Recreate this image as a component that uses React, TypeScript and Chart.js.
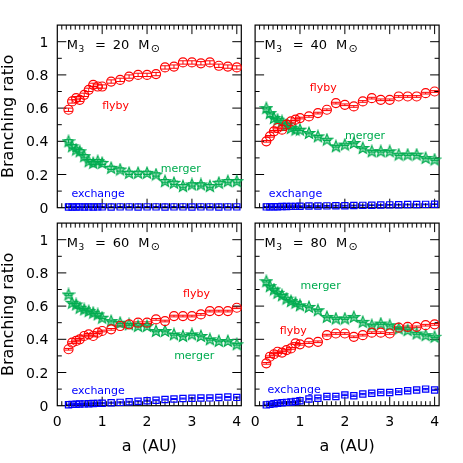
import React, { useEffect, useRef } from "react";
import { Chart, registerables } from "chart.js";

Chart.register(...registerables);

// ---------------- data ----------------
const aValues = [0.25, 0.33, 0.42, 0.5, 0.6, 0.7, 0.8, 0.9, 1.0, 1.2, 1.4, 1.6, 1.8, 2.0, 2.2, 2.4, 2.6, 2.8, 3.0, 3.2, 3.4, 3.6, 3.8, 4.0];

const masses = [20, 40, 60, 80];

const flyby20 = [0.59, 0.64, 0.66, 0.65, 0.68, 0.71, 0.74, 0.73, 0.73, 0.76, 0.77, 0.79, 0.8, 0.8, 0.805, 0.845, 0.85, 0.875, 0.875, 0.87, 0.875, 0.855, 0.85, 0.845];
const merger20 = [0.4, 0.37, 0.35, 0.34, 0.31, 0.28, 0.27, 0.28, 0.27, 0.24, 0.23, 0.21, 0.21, 0.21, 0.2, 0.16, 0.15, 0.13, 0.14, 0.14, 0.13, 0.15, 0.16, 0.16];
const exchange20 = [0.004, 0.004, 0.004, 0.005, 0.004, 0.005, 0.004, 0.005, 0.005, 0.004, 0.005, 0.005, 0.004, 0.005, 0.005, 0.004, 0.005, 0.005, 0.004, 0.005, 0.005, 0.004, 0.005, 0.005];

const flyby40 = [0.4, 0.43, 0.46, 0.48, 0.47, 0.5, 0.52, 0.53, 0.54, 0.55, 0.57, 0.59, 0.63, 0.62, 0.61, 0.64, 0.66, 0.65, 0.65, 0.67, 0.67, 0.67, 0.69, 0.7];
const merger40 = [0.6, 0.57, 0.54, 0.53, 0.52, 0.5, 0.48, 0.47, 0.47, 0.45, 0.43, 0.41, 0.37, 0.38, 0.39, 0.36, 0.34, 0.34, 0.34, 0.32, 0.32, 0.32, 0.3, 0.29];
const exchange40 = [0.005, 0.005, 0.006, 0.006, 0.007, 0.007, 0.008, 0.008, 0.009, 0.01, 0.01, 0.011, 0.012, 0.012, 0.013, 0.014, 0.015, 0.016, 0.017, 0.018, 0.019, 0.019, 0.02, 0.021];

const flyby60 = [0.34, 0.38, 0.39, 0.4, 0.42, 0.43, 0.42, 0.44, 0.45, 0.46, 0.48, 0.49, 0.5, 0.5, 0.52, 0.51, 0.54, 0.54, 0.54, 0.55, 0.57, 0.57, 0.57, 0.59];
const merger60 = [0.67, 0.62, 0.61, 0.59, 0.58, 0.57, 0.56, 0.55, 0.53, 0.51, 0.5, 0.49, 0.48, 0.48, 0.45, 0.45, 0.43, 0.42, 0.43, 0.42, 0.4, 0.39, 0.39, 0.37];
const exchange60 = [0.006, 0.008, 0.009, 0.01, 0.011, 0.012, 0.013, 0.014, 0.015, 0.018, 0.02, 0.024, 0.027, 0.03, 0.033, 0.037, 0.04, 0.043, 0.045, 0.046, 0.047, 0.049, 0.052, 0.05];

const flyby80 = [0.255, 0.295, 0.31, 0.325, 0.32, 0.335, 0.345, 0.375, 0.37, 0.38, 0.385, 0.425, 0.435, 0.435, 0.415, 0.425, 0.44, 0.44, 0.435, 0.47, 0.475, 0.475, 0.485, 0.49];
const merger80 = [0.75, 0.72, 0.7, 0.68, 0.665, 0.645, 0.63, 0.62, 0.605, 0.595, 0.575, 0.535, 0.525, 0.525, 0.535, 0.505, 0.485, 0.495, 0.485, 0.465, 0.455, 0.435, 0.425, 0.415];
const exchange80 = [0.005, 0.008, 0.012, 0.015, 0.018, 0.02, 0.022, 0.025, 0.03, 0.04, 0.045, 0.055, 0.055, 0.065, 0.06, 0.07, 0.075, 0.08, 0.08, 0.085, 0.09, 0.095, 0.1, 0.095];

// error-bar half sizes per panel
const flybyErr = [0.01, 0.005, 0.005, 0.005];
const mergerErr = [0.01, 0.005, 0.005, 0.005];
const exchangeErr = [0.002, 0.002, 0.003, 0.004];

const seriesNames = ["flyby", "merger", "exchange"];
const xTickValues = [0, 1, 2, 3, 4];
const yTickValues = [0, 0.2, 0.4, 0.6, 0.8, 1];

// label anchor positions (data units) per panel: [flyby, merger, exchange]
const labelX = [
  [1.3, 2.75, 0.91],
  [1.52, 2.45, 0.9],
  [3.1, 3.05, 0.91],
  [0.85, 1.46, 0.87],
];
const labelY = [
  [0.61, 0.23, 0.08],
  [0.72, 0.43, 0.08],
  [0.67, 0.3, 0.085],
  [0.45, 0.72, 0.095],
];
const massLabelX = 0.21;
const massLabelY = 0.955;

// ---------------- styles / layout ----------------
const RED = "#ff0000";
const GREEN = "rgb(0,172,80)";
const BLUE = "#0000ff";
const FONT = "'DejaVu Sans', sans-serif";
const W = 463;
const H = 463;
const X_MAX = 4.1;
const Y_MAX = 1.1;

// plot rectangles: left, top, right, bottom
const panelRects = [
  [57.3, 25.1, 241.3, 207.7],
  [255.1, 25.1, 439.1, 207.7],
  [57.3, 223.1, 241.3, 405.7],
  [255.1, 223.1, 439.1, 405.7],
];

function makeStar(): HTMLCanvasElement {
  const c = document.createElement("canvas");
  c.width = 14;
  c.height = 14;
  const ctx = c.getContext("2d")!;
  const cx = 7, cy = 7.4, ro = 6, ri = 2.6;
  ctx.beginPath();
  for (let k = 0; k < 10; k++) {
    const r = k % 2 === 0 ? ro : ri;
    const ang = -Math.PI / 2 + (k * Math.PI) / 5;
    const px = cx + r * Math.cos(ang);
    const py = cy + r * Math.sin(ang);
    if (k === 0) ctx.moveTo(px, py);
    else ctx.lineTo(px, py);
  }
  ctx.closePath();
  ctx.fillStyle = "rgba(0,172,80,0.45)";
  ctx.fill();
  ctx.strokeStyle = GREEN;
  ctx.lineWidth = 1.2;
  ctx.stroke();
  return c;
}

const decorPlugin = {
  id: "panelDecor",
  beforeDatasetsDraw(chart: any) {
    const ctx = chart.ctx;
    const { left, right, top, bottom } = chart.chartArea;
    const xs = chart.scales.x;
    const ys = chart.scales.y;
    ctx.save();
    // error bars
    chart.data.datasets.forEach((ds: any, i: number) => {
      const meta = chart.getDatasetMeta(i);
      ctx.strokeStyle = ds.borderColor;
      ctx.lineWidth = 1;
      const cap = ds.capHalf;
      meta.data.forEach((pt: any, j: number) => {
        const v = ds.data[j].y;
        const y1 = ys.getPixelForValue(v - ds.err);
        const y2 = ys.getPixelForValue(v + ds.err);
        ctx.beginPath();
        ctx.moveTo(pt.x, y1);
        ctx.lineTo(pt.x, y2);
        ctx.moveTo(pt.x - cap, y1);
        ctx.lineTo(pt.x + cap, y1);
        ctx.moveTo(pt.x - cap, y2);
        ctx.lineTo(pt.x + cap, y2);
        ctx.stroke();
      });
    });
    // frame
    ctx.strokeStyle = "#000";
    ctx.lineWidth = 1.2;
    ctx.strokeRect(left, top, right - left, bottom - top);
    // x ticks (top + bottom), y ticks (left + right)
    ctx.lineWidth = 1;
    ctx.beginPath();
    for (let k = 1; k <= 40; k++) {
      const px = xs.getPixelForValue(k / 10);
      const len = k % 10 === 0 ? 9 : 4.5;
      ctx.moveTo(px, bottom);
      ctx.lineTo(px, bottom - len);
      ctx.moveTo(px, top);
      ctx.lineTo(px, top + len);
    }
    for (let k = 1; k <= 10; k++) {
      const py = ys.getPixelForValue(k / 10);
      const len = k % 2 === 0 ? 9 : 4.5;
      ctx.moveTo(left, py);
      ctx.lineTo(left + len, py);
      ctx.moveTo(right, py);
      ctx.lineTo(right - len, py);
    }
    ctx.stroke();
    ctx.restore();
  },
  afterDraw(chart: any) {
    const ctx = chart.ctx;
    const xs = chart.scales.x;
    const ys = chart.scales.y;
    const o = chart.options.plugins.panelDecor;
    ctx.save();
    // mass label
    const x0 = xs.getPixelForValue(massLabelX);
    const yb = ys.getPixelForValue(massLabelY);
    ctx.fillStyle = "#000";
    ctx.textAlign = "left";
    ctx.textBaseline = "alphabetic";
    ctx.font = `13px ${FONT}`;
    ctx.fillText("M", x0, yb);
    ctx.fillText("=", x0 + 28.3, yb);
    ctx.fillText(String(o.mass), x0 + 46, yb);
    ctx.fillText("M", x0 + 71.6, yb);
    ctx.font = `9px ${FONT}`;
    ctx.fillText("3", x0 + 11.8, yb + 3);
    ctx.font = `11px ${FONT}`;
    ctx.fillText("\u2299", x0 + 84, yb + 3);
    // series labels
    ctx.font = `11px ${FONT}`;
    ctx.textAlign = "center";
    ctx.textBaseline = "middle";
    const colors = [RED, GREEN, BLUE];
    seriesNames.forEach((name, k) => {
      ctx.fillStyle = colors[k];
      ctx.fillText(name, xs.getPixelForValue(o.lx[k]), ys.getPixelForValue(o.ly[k]));
    });
    ctx.restore();
  },
};

function buildConfig(i: number, star: HTMLCanvasElement): any {
  const [L, T, R, B] = panelRects[i];
  const showX = i >= 2;
  const showY = i % 2 === 0;
  const series = [
    [flyby20, merger20, exchange20],
    [flyby40, merger40, exchange40],
    [flyby60, merger60, exchange60],
    [flyby80, merger80, exchange80],
  ][i];
  const toPts = (arr: number[]) => aValues.map((a, j) => ({ x: a, y: arr[j] }));
  return {
    type: "scatter",
    data: {
      datasets: [
        {
          label: "flyby",
          data: toPts(series[0]),
          borderColor: RED,
          backgroundColor: "rgba(0,0,0,0)",
          pointStyle: "circle",
          pointRadius: 4.5,
          pointBorderWidth: 1.2,
          clip: false,
          err: flybyErr[i],
          capHalf: 4,
        },
        {
          label: "merger",
          data: toPts(series[1]),
          borderColor: GREEN,
          backgroundColor: GREEN,
          pointStyle: star,
          pointRadius: 5,
          clip: false,
          err: mergerErr[i],
          capHalf: 4,
        },
        {
          label: "exchange",
          data: toPts(series[2]),
          borderColor: BLUE,
          backgroundColor: "rgba(0,0,0,0)",
          pointStyle: "rect",
          pointRadius: 4.4,
          pointBorderWidth: 1.2,
          clip: false,
          err: exchangeErr[i],
          capHalf: 3,
        },
      ],
    },
    options: {
      responsive: false,
      animation: false,
      events: [],
      layout: { padding: { left: 0, top: T, right: W - R, bottom: 0 } },
      plugins: {
        legend: { display: false },
        tooltip: { enabled: false },
        panelDecor: { mass: masses[i], lx: labelX[i], ly: labelY[i] },
      },
      scales: {
        x: {
          type: "linear",
          position: "bottom",
          min: 0,
          max: X_MAX,
          afterFit: (s: any) => {
            s.height = H - B;
          },
          grid: { display: false, drawTicks: false },
          border: { display: false },
          afterBuildTicks: (s: any) => {
            s.ticks = xTickValues.map((v) => ({ value: v }));
          },
          ticks: {
            display: showX,
            padding: 8.5,
            color: "#000",
            font: { family: FONT, size: 14 },
            maxRotation: 0,
            autoSkip: false,
            callback: (v: any) => String(v),
          },
          title: {
            display: showX,
            text: "a  (AU)",
            color: "#000",
            font: { family: FONT, size: 16 },
            padding: { top: 0, bottom: 6.4 },
          },
        },
        y: {
          type: "linear",
          position: "left",
          min: 0,
          max: Y_MAX,
          afterFit: (s: any) => {
            s.width = L;
          },
          grid: { display: false, drawTicks: false },
          border: { display: false },
          afterBuildTicks: (s: any) => {
            s.ticks = yTickValues.map((v) => ({ value: v }));
          },
          ticks: {
            display: showY,
            padding: 9,
            labelOffset: 1.5,
            color: "#000",
            font: { family: FONT, size: 14 },
            autoSkip: false,
            callback: (v: any) => String(parseFloat(Number(v).toFixed(1))),
          },
          title: {
            display: showY,
            text: "Branching ratio",
            color: "#000",
            font: { family: FONT, size: 16, lineHeight: 1.0 },
            padding: { top: 1, bottom: 0 },
          },
        },
      },
    },
    plugins: [decorPlugin],
  };
}

export default function App() {
  const canvases = useRef<(HTMLCanvasElement | null)[]>([]);
  useEffect(() => {
    const star = makeStar();
    const charts = [0, 1, 2, 3].map((i) => new Chart(canvases.current[i]!, buildConfig(i, star)));
    return () => charts.forEach((c) => c.destroy());
  }, []);
  return (
    <div style={{ position: "absolute", left: 0, top: 0, width: W, height: H, background: "#fff" }}>
      {[0, 1, 2, 3].map((i) => (
        <canvas
          key={i}
          ref={(el) => {
            canvases.current[i] = el;
          }}
          width={W}
          height={H}
          style={{ position: "absolute", left: 0, top: 0, width: W, height: H }}
        />
      ))}
    </div>
  );
}
